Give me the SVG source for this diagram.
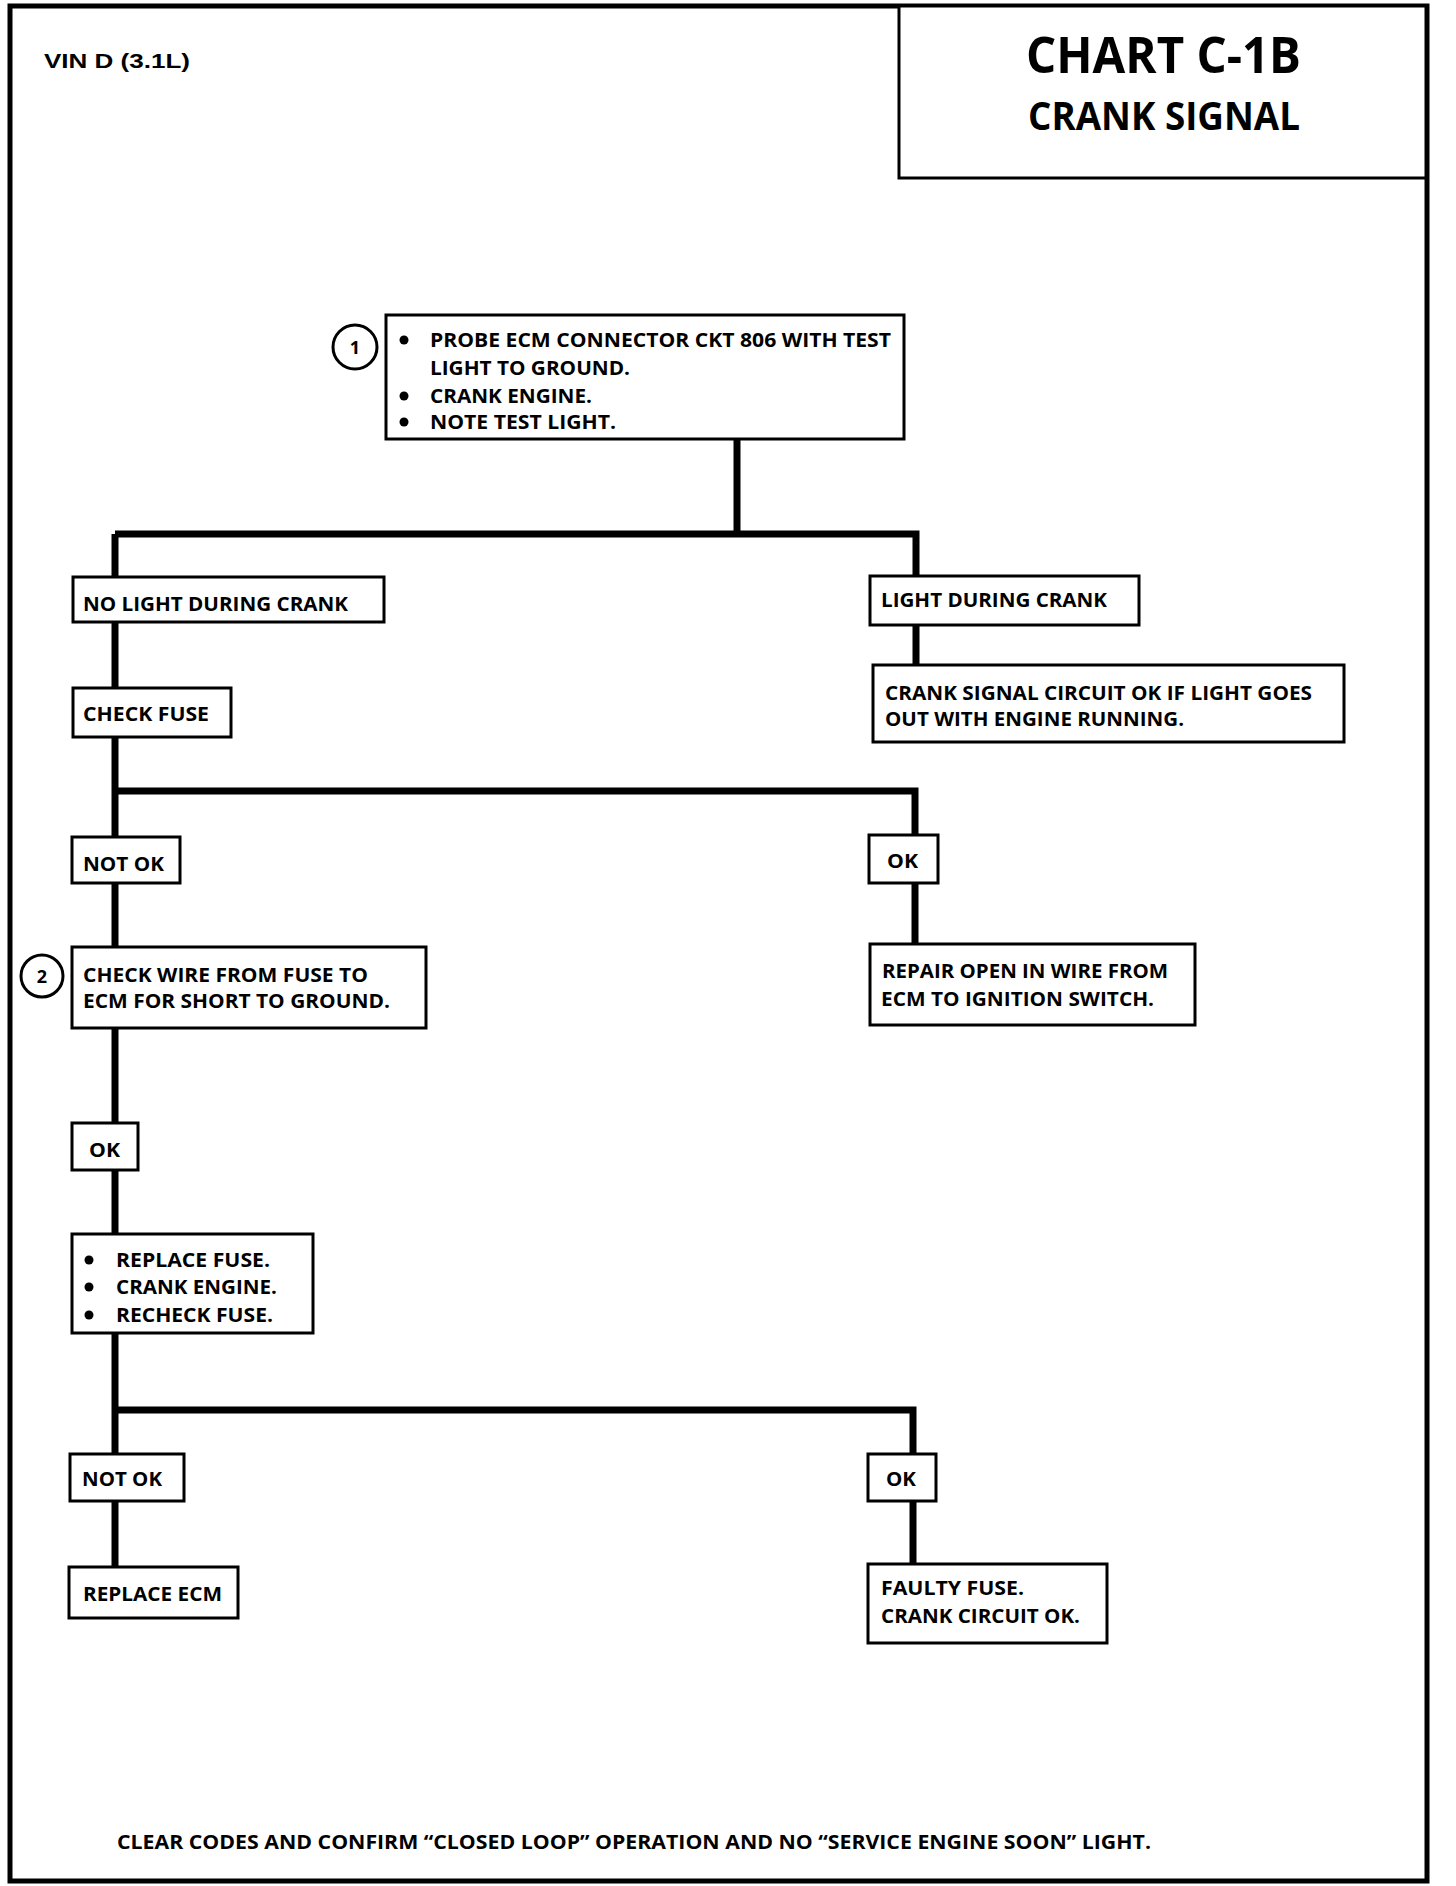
<svg xmlns="http://www.w3.org/2000/svg" width="1456" height="1886" viewBox="0 0 1456 1886">
<style>
.t{font-family:"Open Sans","DejaVu Sans",sans-serif;font-weight:700;font-size:20px;fill:#000}
.box{fill:#fff;stroke:#000;stroke-width:3}
.wire{fill:none;stroke:#000;stroke-width:7;stroke-linejoin:miter;stroke-linecap:butt}
.num{font-family:"Open Sans","DejaVu Sans",sans-serif;font-weight:700;font-size:18px;text-anchor:middle}
</style>
<rect x="0" y="0" width="1456" height="1886" fill="#fff"/>
<g id="frame">
<rect x="10" y="6" width="1417" height="1875" fill="none" stroke="#000" stroke-width="5"/>
</g>
<g id="header">
<text x="44" y="68" font-family="Liberation Sans, Arial, sans-serif" font-weight="700" font-size="20" textLength="146" lengthAdjust="spacingAndGlyphs">VIN D (3.1L)</text>
</g>
<g id="title">
<rect x="899" y="6" width="527" height="172" fill="#fff" stroke="#000" stroke-width="3"/>
<text class="t" x="1026" y="73" font-size="50" style="font-size:50px" textLength="275" lengthAdjust="spacingAndGlyphs">CHART C-1B</text>
<text class="t" x="1028" y="130" style="font-size:40px" textLength="272" lengthAdjust="spacingAndGlyphs">CRANK SIGNAL</text>
</g>
<g id="connectors">
<path class="wire" d="M737 439 V534"/>
<path class="wire" d="M115 534 H916 V665"/>
<path class="wire" d="M115 534 V1567"/>
<path class="wire" d="M115 791 H915 V944"/>
<path class="wire" d="M115 1410 H913 V1564"/>
</g>
<g id="n1">
<rect class="box" x="386" y="315" width="518" height="124"/>
<circle cx="355" cy="347" r="22" fill="#fff" stroke="#000" stroke-width="3"/>
<text class="num" x="355" y="354">1</text>
<circle cx="404" cy="340" r="4.5"/><circle cx="404" cy="396" r="4.5"/><circle cx="404" cy="422" r="4.5"/>
<text class="t" x="430" y="347" textLength="461" lengthAdjust="spacingAndGlyphs">PROBE ECM CONNECTOR CKT 806 WITH TEST</text>
<text class="t" x="430" y="375" textLength="200" lengthAdjust="spacingAndGlyphs">LIGHT TO GROUND.</text>
<text class="t" x="430" y="403" textLength="162" lengthAdjust="spacingAndGlyphs">CRANK ENGINE.</text>
<text class="t" x="430" y="429" textLength="186" lengthAdjust="spacingAndGlyphs">NOTE TEST LIGHT.</text>
</g>
<g id="n2">
<rect class="box" x="73" y="577" width="311" height="45"/>
<text class="t" x="83" y="611" textLength="265" lengthAdjust="spacingAndGlyphs">NO LIGHT DURING CRANK</text>
</g>
<g id="n3">
<rect class="box" x="870" y="576" width="269" height="49"/>
<text class="t" x="881" y="607" textLength="226" lengthAdjust="spacingAndGlyphs">LIGHT DURING CRANK</text>
</g>
<g id="n4">
<rect class="box" x="873" y="665" width="471" height="77"/>
<text class="t" x="885" y="700" textLength="427" lengthAdjust="spacingAndGlyphs">CRANK SIGNAL CIRCUIT OK IF LIGHT GOES</text>
<text class="t" x="885" y="726" textLength="299" lengthAdjust="spacingAndGlyphs">OUT WITH ENGINE RUNNING.</text>
</g>
<g id="n5">
<rect class="box" x="73" y="688" width="158" height="49"/>
<text class="t" x="83" y="721" textLength="126" lengthAdjust="spacingAndGlyphs">CHECK FUSE</text>
</g>
<g id="n6">
<rect class="box" x="72" y="837" width="108" height="46"/>
<text class="t" x="83" y="871" textLength="81" lengthAdjust="spacingAndGlyphs">NOT OK</text>
</g>
<g id="n7">
<rect class="box" x="869" y="835" width="69" height="48"/>
<text class="t" x="887" y="868" textLength="31" lengthAdjust="spacingAndGlyphs">OK</text>
</g>
<g id="n8">
<rect class="box" x="72" y="947" width="354" height="81"/>
<circle cx="42" cy="976" r="21" fill="#fff" stroke="#000" stroke-width="3"/>
<text class="num" x="42" y="983">2</text>
<text class="t" x="83" y="982" textLength="285" lengthAdjust="spacingAndGlyphs">CHECK WIRE FROM FUSE TO</text>
<text class="t" x="83" y="1008" textLength="307" lengthAdjust="spacingAndGlyphs">ECM FOR SHORT TO GROUND.</text>
</g>
<g id="n9">
<rect class="box" x="870" y="944" width="325" height="81"/>
<text class="t" x="882" y="978" textLength="286" lengthAdjust="spacingAndGlyphs">REPAIR OPEN IN WIRE FROM</text>
<text class="t" x="881" y="1006" textLength="273" lengthAdjust="spacingAndGlyphs">ECM TO IGNITION SWITCH.</text>
</g>
<g id="n10">
<rect class="box" x="72" y="1123" width="66" height="47"/>
<text class="t" x="89" y="1157" textLength="31" lengthAdjust="spacingAndGlyphs">OK</text>
</g>
<g id="n11">
<rect class="box" x="72" y="1234" width="241" height="99"/>
<circle cx="89" cy="1260" r="4.5"/><circle cx="89" cy="1287" r="4.5"/><circle cx="89" cy="1315" r="4.5"/>
<text class="t" x="116" y="1267" textLength="154" lengthAdjust="spacingAndGlyphs">REPLACE FUSE.</text>
<text class="t" x="116" y="1294" textLength="161" lengthAdjust="spacingAndGlyphs">CRANK ENGINE.</text>
<text class="t" x="116" y="1322" textLength="157" lengthAdjust="spacingAndGlyphs">RECHECK FUSE.</text>
</g>
<g id="n12">
<rect class="box" x="70" y="1454" width="114" height="47"/>
<text class="t" x="82" y="1486" textLength="80" lengthAdjust="spacingAndGlyphs">NOT OK</text>
</g>
<g id="n13">
<rect class="box" x="868" y="1454" width="68" height="47"/>
<text class="t" x="886" y="1486" textLength="30" lengthAdjust="spacingAndGlyphs">OK</text>
</g>
<g id="n14">
<rect class="box" x="69" y="1567" width="169" height="51"/>
<text class="t" x="83" y="1601" textLength="139" lengthAdjust="spacingAndGlyphs">REPLACE ECM</text>
</g>
<g id="n15">
<rect class="box" x="868" y="1564" width="239" height="79"/>
<text class="t" x="881" y="1595" textLength="143" lengthAdjust="spacingAndGlyphs">FAULTY FUSE.</text>
<text class="t" x="881" y="1623" textLength="199" lengthAdjust="spacingAndGlyphs">CRANK CIRCUIT OK.</text>
</g>
<g id="footer">
<text class="t" x="117" y="1849" textLength="1034" lengthAdjust="spacingAndGlyphs">CLEAR CODES AND CONFIRM “CLOSED LOOP” OPERATION AND NO “SERVICE ENGINE SOON” LIGHT.</text>
</g>
</svg>
